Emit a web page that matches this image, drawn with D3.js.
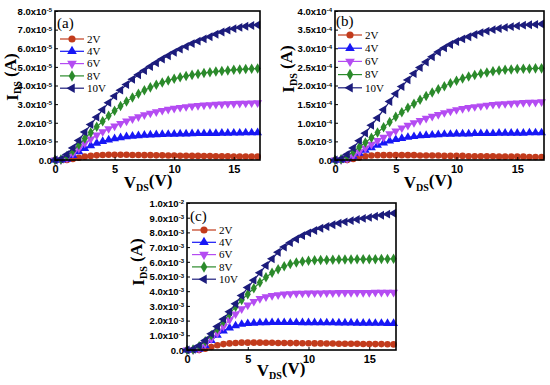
<!DOCTYPE html>
<html><head><meta charset="utf-8">
<script src="https://cdn.jsdelivr.net/npm/d3@7/dist/d3.min.js"></script>
<style>body{margin:0;background:#fff}svg{display:block}</style>
</head><body>
<svg id="chart" width="550" height="385"></svg>
<script>
// ---------- DATA ----------
const VDS = [0,0.5,1,1.5,2,2.5,3,3.5,4,4.5,5,5.5,6,6.5,7,7.5,8,8.5,9,9.5,10,10.5,11,11.5,12,12.5,13,13.5,14,14.5,15,15.5,16,16.5,17];
const SERIES = ["2V","4V","6V","8V","10V"];

// panel (a), units of 1e-5 A
const A_2V  = [0,0,0,0.05,0.12,0.18,0.22,0.25,0.27,0.28,0.28,0.28,0.28,0.27,0.27,0.26,0.26,0.25,0.25,0.24,0.24,0.23,0.23,0.22,0.22,0.21,0.21,0.2,0.2,0.2,0.19,0.19,0.19,0.18,0.18];
const A_4V  = [0,0,0.05,0.25,0.45,0.62,0.77,0.9,1.0,1.08,1.15,1.2,1.25,1.28,1.31,1.33,1.35,1.36,1.37,1.38,1.39,1.4,1.4,1.41,1.42,1.42,1.43,1.43,1.44,1.44,1.45,1.45,1.46,1.46,1.47];
const A_6V  = [0,0,0.1,0.35,0.62,0.9,1.13,1.34,1.52,1.68,1.82,1.96,2.09,2.21,2.32,2.42,2.51,2.59,2.66,2.72,2.77,2.82,2.86,2.89,2.92,2.95,2.97,2.99,3.0,3.02,3.03,3.04,3.05,3.06,3.07];
const A_8V  = [0,0.03,0.22,0.5,0.82,1.15,1.47,1.78,2.08,2.37,2.64,2.9,3.14,3.36,3.56,3.74,3.9,4.04,4.16,4.27,4.36,4.44,4.51,4.57,4.62,4.67,4.71,4.75,4.78,4.81,4.84,4.86,4.88,4.9,4.91];
const A_10V = [0,0.05,0.3,0.65,1.05,1.5,1.9,2.3,2.7,3.08,3.43,3.75,4.05,4.33,4.58,4.8,5.02,5.22,5.42,5.6,5.78,5.95,6.1,6.25,6.38,6.5,6.62,6.75,6.87,6.97,7.05,7.12,7.18,7.22,7.25];

// panel (b), units of 1e-4 A
const B_2V  = [0,0,0,0.03,0.07,0.1,0.12,0.13,0.13,0.13,0.13,0.13,0.13,0.13,0.12,0.12,0.12,0.12,0.11,0.11,0.11,0.11,0.1,0.1,0.1,0.1,0.1,0.09,0.09,0.09,0.09,0.09,0.08,0.08,0.08];
const B_4V  = [0,0,0.03,0.1,0.18,0.26,0.33,0.4,0.46,0.51,0.55,0.58,0.61,0.63,0.65,0.66,0.67,0.68,0.69,0.69,0.7,0.7,0.7,0.71,0.71,0.71,0.71,0.72,0.72,0.72,0.72,0.72,0.73,0.73,0.73];
const B_6V  = [0,0,0.04,0.12,0.22,0.32,0.42,0.52,0.61,0.7,0.78,0.86,0.93,1.0,1.06,1.12,1.17,1.22,1.27,1.31,1.35,1.38,1.41,1.43,1.45,1.47,1.49,1.5,1.51,1.52,1.53,1.54,1.55,1.55,1.56];
const B_8V  = [0,0.02,0.1,0.22,0.35,0.47,0.6,0.74,0.88,1.02,1.16,1.28,1.4,1.51,1.62,1.72,1.81,1.9,1.98,2.06,2.13,2.19,2.24,2.28,2.32,2.35,2.38,2.4,2.42,2.43,2.44,2.45,2.45,2.46,2.46];
const B_10V = [0,0.03,0.15,0.32,0.52,0.72,0.93,1.13,1.35,1.57,1.78,1.97,2.15,2.32,2.48,2.63,2.77,2.9,3.01,3.1,3.18,3.25,3.31,3.37,3.42,3.46,3.5,3.53,3.56,3.58,3.6,3.62,3.63,3.64,3.65];

// panel (c), units of 1e-3 A
const C_2V  = [0,0,0,0.08,0.2,0.32,0.4,0.45,0.48,0.5,0.5,0.5,0.5,0.49,0.49,0.48,0.48,0.47,0.47,0.46,0.46,0.45,0.45,0.44,0.44,0.43,0.43,0.42,0.42,0.41,0.41,0.4,0.4,0.39,0.38];
const C_4V  = [0,0,0.05,0.3,0.65,1.0,1.3,1.5,1.65,1.75,1.8,1.83,1.85,1.86,1.87,1.87,1.87,1.87,1.87,1.86,1.86,1.86,1.85,1.85,1.85,1.84,1.84,1.84,1.83,1.83,1.83,1.82,1.82,1.81,1.81];
const C_6V  = [0,0,0.1,0.4,0.75,1.15,1.6,2.05,2.45,2.8,3.05,3.3,3.5,3.62,3.7,3.75,3.8,3.83,3.85,3.86,3.87,3.88,3.88,3.89,3.89,3.9,3.9,3.9,3.91,3.91,3.91,3.92,3.92,3.92,3.92];
const C_8V  = [0,0.03,0.25,0.6,1.0,1.45,1.95,2.45,2.95,3.4,3.8,4.2,4.6,4.95,5.25,5.5,5.7,5.85,5.95,6.02,6.07,6.1,6.12,6.13,6.14,6.15,6.15,6.16,6.17,6.17,6.18,6.18,6.19,6.19,6.2];
const C_10V = [0,0.05,0.3,0.65,1.1,1.6,2.1,2.6,3.15,3.7,4.25,4.75,5.25,5.75,6.2,6.65,7.0,7.3,7.55,7.78,7.97,8.13,8.28,8.4,8.52,8.62,8.72,8.8,8.88,8.95,9.02,9.1,9.17,9.24,9.3];

const X_TICKS = [0,5,10,15];
const A_YTICKS = [0,1,2,3,4,5,6,7,8];          // x1e-5
const B_YTICKS = [0,0.5,1,1.5,2,2.5,3,3.5,4];  // x1e-4
const C_YTICKS = [0,1,2,3,4,5,6,7,8,9,10];     // x1e-3

// ---------- STYLE / LAYOUT ----------
const COLORS = {"2V":"#c23b1c","4V":"#1717f5","6V":"#b44cf2","8V":"#2b8a2b","10V":"#1c1c7c"};
const SYMS = {"2V":{t:d3.symbolCircle,s:34,r:0},"4V":{t:d3.symbolTriangle,s:34,r:0},"6V":{t:d3.symbolTriangle,s:34,r:180},"8V":{t:d3.symbolDiamond,s:32,r:0},"10V":{t:d3.symbolTriangle,s:34,r:-90}};

const panels = [
  {label:"(a)", unit:1e-5, yMax:8, ticks:A_YTICKS, data:[A_2V,A_4V,A_6V,A_8V,A_10V], box:{l:55,r:260,t:11,b:160}, ytitle:{x:13,y:77}, xtitle:{x:148,y:188}, leg:{x:60,y:39,dy:12.3}, tag:{x:57,y:28}},
  {label:"(b)", unit:1e-4, yMax:4, ticks:B_YTICKS, data:[B_2V,B_4V,B_6V,B_8V,B_10V], box:{l:335,r:544,t:11,b:160}, ytitle:{x:289,y:69}, xtitle:{x:428,y:188}, leg:{x:338,y:35,dy:13.2}, tag:{x:336,y:26}},
  {label:"(c)", unit:1e-3, yMax:10, ticks:C_YTICKS, data:[C_2V,C_4V,C_6V,C_8V,C_10V], box:{l:187,r:396,t:203,b:350}, ytitle:{x:139,y:262}, xtitle:{x:281,y:376}, leg:{x:192,y:230,dy:12.3}, tag:{x:190,y:221}}
];

const svg = d3.select("#chart");

function fmtTick(v, unit){
  if (v === 0) return {m:"0.0", e:null};
  const val = v*unit;
  const exp = Math.floor(Math.log10(val)+1e-9);
  const man = val/Math.pow(10,exp);
  return {m:man.toFixed(1)+"x10", e:String(exp)};
}

panels.forEach(p=>{
  const g = svg.append("g");
  const x = d3.scaleLinear().domain([0,17.2]).range([p.box.l,p.box.r]);
  const y = d3.scaleLinear().domain([0,p.yMax]).range([p.box.b,p.box.t]);

  // series
  SERIES.forEach((s,i)=>{
    const vals = p.data[i];
    const pts = VDS.map((v,j)=>[v,vals[j]]);
    g.append("path").datum(pts)
      .attr("fill","none").attr("stroke",COLORS[s]).attr("stroke-width",1.2)
      .attr("d",d3.line().x(d=>x(d[0])).y(d=>y(d[1])));
    const sym = d3.symbol().type(SYMS[s].t).size(SYMS[s].s);
    g.selectAll(null).data(pts).join("path")
      .attr("d",sym)
      .attr("transform",d=>`translate(${x(d[0])},${y(d[1])}) rotate(${SYMS[s].r})`)
      .attr("fill",COLORS[s]);
  });

  // frame
  g.append("rect").attr("x",p.box.l).attr("y",p.box.t)
    .attr("width",p.box.r-p.box.l).attr("height",p.box.b-p.box.t)
    .attr("fill","none").attr("stroke","#000").attr("stroke-width",1.6);

  // axes
  const xa = g.append("g").attr("transform",`translate(0,${p.box.b})`)
    .call(d3.axisBottom(x).tickValues(X_TICKS).tickSize(-3).tickPadding(5).tickFormat(d3.format("d")));
  xa.select(".domain").remove();
  xa.selectAll("text").attr("font-family","Liberation Sans, Arial, sans-serif").attr("font-weight","bold").attr("font-size",11).attr("fill","#000");

  const ya = g.append("g").attr("transform",`translate(${p.box.l},0)`)
    .call(d3.axisLeft(y).tickValues(p.ticks).tickSize(-3).tickPadding(4).tickFormat(""));
  ya.select(".domain").remove();
  ya.selectAll(".tick").each(function(d){
    const f = fmtTick(d,p.unit);
    const t = d3.select(this).append("text").attr("x",-3).attr("dy","0.35em")
      .attr("text-anchor","end").attr("fill","#000")
      .attr("font-family","Liberation Sans, Arial, sans-serif").attr("font-weight","bold").attr("font-size",9.5);
    if (f.e===null){ t.text(f.m); }
    else {
      t.append("tspan").text(f.m);
      t.append("tspan").attr("dy","-0.45em").attr("font-size",6).text(f.e);
    }
  });

  // axis titles
  const yt = g.append("text").attr("transform",`translate(${p.ytitle.x+5},${p.ytitle.y}) rotate(-90)`)
    .attr("text-anchor","middle").attr("font-family","Liberation Serif, Times New Roman, serif")
    .attr("font-weight","bold").attr("font-size",17).attr("fill","#000");
  yt.append("tspan").text("I");
  yt.append("tspan").attr("dy","0.3em").attr("font-size",10).text("DS");
  yt.append("tspan").attr("dy","-0.3em").text(" (A)");

  const xt = g.append("text").attr("x",p.xtitle.x).attr("y",p.xtitle.y)
    .attr("text-anchor","middle").attr("font-family","Liberation Serif, Times New Roman, serif")
    .attr("font-weight","bold").attr("font-size",17).attr("fill","#000");
  xt.append("tspan").text("V");
  xt.append("tspan").attr("dy","0.3em").attr("font-size",10).text("DS");
  xt.append("tspan").attr("dy","-0.3em").text("(V)");

  // panel tag
  g.append("text").attr("x",p.tag.x).attr("y",p.tag.y)
    .attr("font-family","Liberation Serif, Times New Roman, serif").attr("font-size",15).attr("fill","#000").text(p.label);

  // legend
  SERIES.forEach((s,i)=>{
    const ly = p.leg.y + i*p.leg.dy;
    g.append("line").attr("x1",p.leg.x).attr("x2",p.leg.x+24).attr("y1",ly).attr("y2",ly)
      .attr("stroke",COLORS[s]).attr("stroke-width",1.2);
    g.append("path").attr("d",d3.symbol().type(SYMS[s].t).size(SYMS[s].s+6)())
      .attr("transform",`translate(${p.leg.x+12},${ly}) rotate(${SYMS[s].r})`).attr("fill",COLORS[s]);
    g.append("text").attr("x",p.leg.x+27).attr("y",ly).attr("dy","0.35em")
      .attr("font-family","Liberation Serif, Times New Roman, serif").attr("font-size",11).attr("fill","#000").text(s);
  });
});
</script>
</body></html>
